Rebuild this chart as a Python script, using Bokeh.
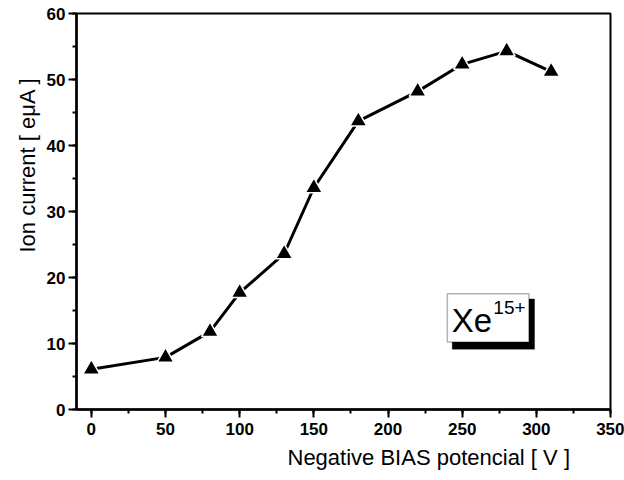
from bokeh.plotting import figure
from bokeh.models import SingleIntervalTicker, Label, BoxAnnotation, Range1d, Title
from bokeh.embed import file_html
from bokeh.resources import INLINE

# Data
bias_v = [0, 50, 80, 100, 130, 150, 180, 220, 250, 280, 310]
ion_current = [6.1, 7.9, 11.8, 17.7, 23.6, 33.6, 43.7, 48.2, 52.3, 54.3, 51.2]

x_label = "Negative BIAS potencial [ V ]"
y_label = "Ion current [ eμA ]"
ion_name = "Xe"
ion_charge = "15+"

FONT = "Liberation Sans"

p = figure(width=624, height=480, output_backend="svg", toolbar_location=None,
           x_range=Range1d(-10, 350), y_range=Range1d(0, 60),
           min_border_left=76, min_border_right=14, min_border_top=13, min_border_bottom=71)

p.background_fill_color = "white"
p.border_fill_color = "white"
p.outline_line_color = "black"
p.outline_line_width = 2
p.grid.visible = False

p.xaxis.ticker = SingleIntervalTicker(interval=50, num_minor_ticks=2)
p.yaxis.ticker = SingleIntervalTicker(interval=10, num_minor_ticks=2)
for ax in (p.xaxis, p.yaxis):
    ax.axis_label = None
    ax.axis_label_standoff = 0
    ax.axis_line_color = "black"
    ax.axis_line_width = 2.5
    ax.major_tick_line_color = "black"
    ax.major_tick_line_width = 2
    ax.minor_tick_line_color = "black"
    ax.minor_tick_line_width = 2
    ax.major_tick_out = 8
    ax.major_tick_in = 0
    ax.minor_tick_out = 4
    ax.minor_tick_in = 0
    ax.major_label_text_font = FONT
    ax.major_label_text_font_size = "17px"
    ax.major_label_text_font_style = "bold"
    ax.major_label_text_color = "black"
p.xaxis.major_label_standoff = 5
p.yaxis.major_label_standoff = 3

p.line(bias_v, ion_current, line_color="black", line_width=3)
p.scatter(bias_v, ion_current, marker="triangle", size=17,
          fill_color="black", line_color="white", line_width=1.5)

# Axis titles, positioned like the original (off-centre)
p.add_layout(Title(text=x_label, align="left", offset=211, text_font=FONT,
                   text_font_size="22px", text_font_style="normal",
                   text_color="black", standoff=10), "below")
p.add_layout(Title(text=y_label, align="left", offset=157, text_font=FONT,
                   text_font_size="22px", text_font_style="normal",
                   text_color="black", standoff=4, vertical_align="top"), "left")

# Ion tag box with drop shadow
p.add_layout(BoxAnnotation(left=243.3, right=298.8, bottom=9.12, top=16.74,
                           fill_color="black", fill_alpha=1, line_color="black"))
p.add_layout(BoxAnnotation(left=240.0, right=295.0, bottom=10.23, top=17.55,
                           fill_color="white", fill_alpha=1, line_color="black",
                           line_width=1.5))
p.add_layout(Label(x=243.0, y=13.53, text=ion_name, text_font=FONT,
                   text_font_size="33px", text_align="left",
                   text_baseline="middle", text_color="black"))
p.add_layout(Label(x=271.0, y=15.5, text=ion_charge, text_font=FONT,
                   text_font_size="19px", text_align="left",
                   text_baseline="middle", text_color="black"))

open("out.html", "w").write(file_html(p, INLINE))
